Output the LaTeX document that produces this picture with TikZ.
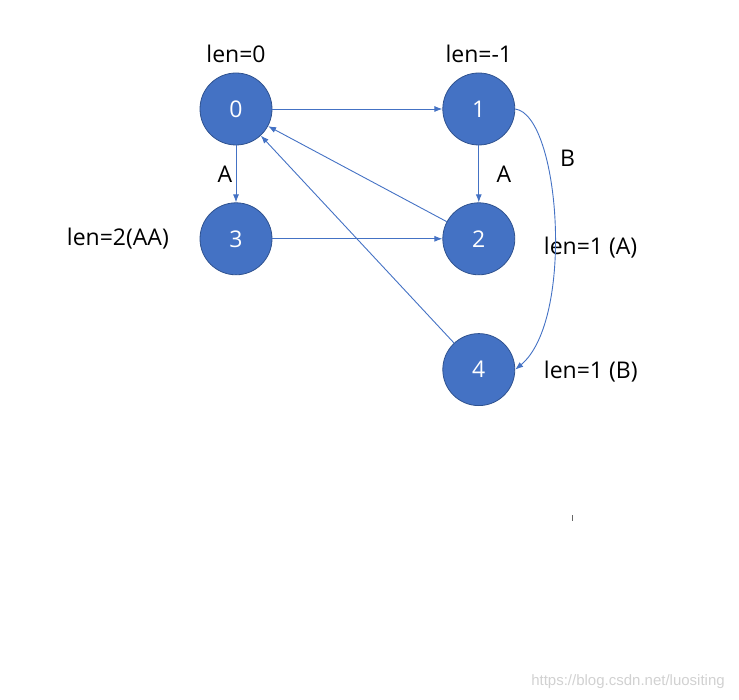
\documentclass[tikz,border=0pt]{standalone}
\usepackage{fontspec}
\setmainfont{Open Sans}
\setsansfont{Liberation Sans}
\usetikzlibrary{positioning,arrows.meta}
\definecolor{officeblue}{HTML}{4472C4}
\definecolor{officeedge}{HTML}{2F528F}
\begin{document}
\begin{tikzpicture}[x=1pt,y=-1pt,line width=0.9pt,>={Latex[length=8pt,width=6pt]},
	state/.style={circle,fill=officeblue,draw=officeedge,line width=0.8pt,minimum size=72pt,inner sep=0pt,text=white,font=\fontsize{23}{26}\selectfont},
	txt/.style={font=\fontsize{23}{26}\selectfont},
	edge/.style={->,draw=officeblue}]

		\useasboundingbox (0,0) rectangle (739,700);

		%the states
		\node[state] (n0) at (236,109) {0};
		\node[state,right=170pt of n0] (n1) {1};
		\node[state,below=57pt of n0] (n3) {3};
		\node[state,right=170pt of n3] (n2) {2};
		\node[state,below=58pt of n2] (n4) {4};

		%the lengths
		\node[txt,above=6pt of n0] (len0) {len=0};
		\node[txt,above=6pt of n1] (len1) {len=-1};
		\node[txt,left=27pt of n3] (len3) {len=2(AA)};
		\node[txt,right=25pt of n2,yshift=-9pt] (len2) {len=1 (A)};
		\node[txt,right=25pt of n4,yshift=-2pt] (len4) {len=1 (B)};

		% the transitions
		\draw[edge] (n0) -- (n1);
		\draw[edge] (n0) -- node[txt,left] {A} (n3);
		\draw[edge] (n1) -- node[txt,right=14pt] {A} (n2);
		\draw[edge] (n3) -- (n2);
		\draw[edge] (n2) -- (n0);
		\draw[edge] (n4) -- (n0);
		\draw[edge] (n1.east) .. controls (560,115) and (575,320) .. node[txt,pos=0.3,right=10pt] {B} (n4.east);

		% the marks
		\coordinate (tickTop) at (572,515);
		\coordinate (tickBot) at (572,521);
		\draw[line width=0.6pt,gray!80!black] (tickTop) -- (tickBot);
		\node[font=\sffamily\fontsize{15}{18}\selectfont,text=black!18] (mark) at (628,682) {https://blog.csdn.net/luositing};

	\end{tikzpicture}
\end{document}
